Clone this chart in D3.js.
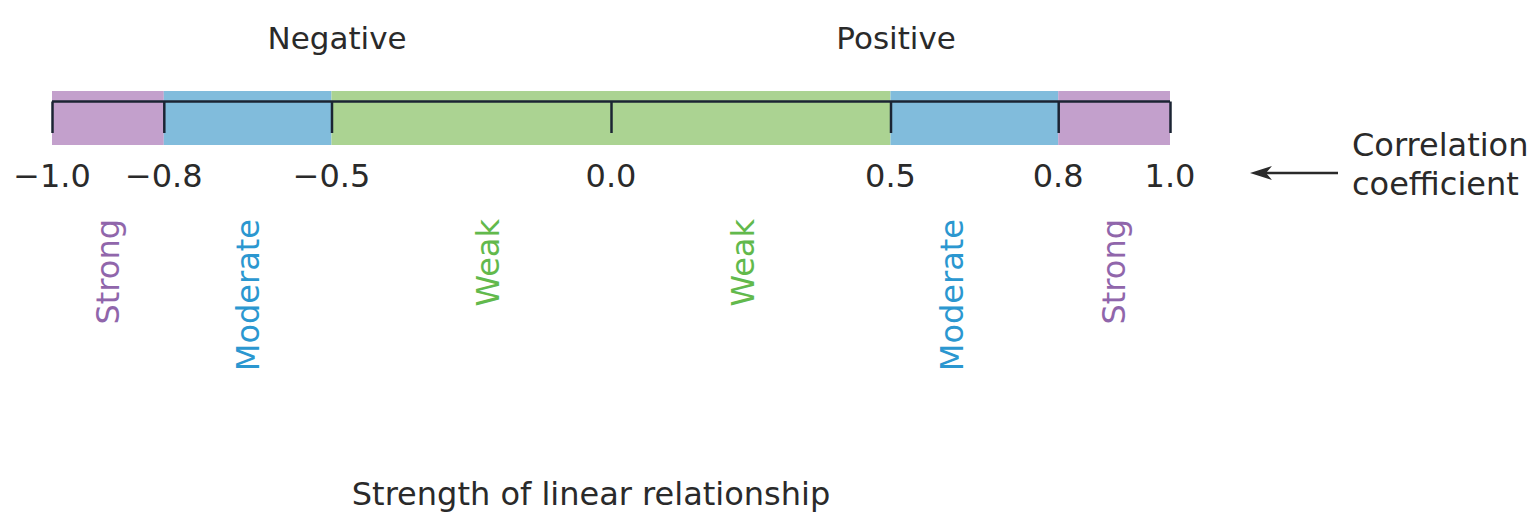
<!DOCTYPE html>
<html>
<head>
<meta charset="utf-8">
<script src="https://cdn.jsdelivr.net/npm/d3@7"></script>
<style>
  html, body { margin: 0; padding: 0; background: #fff; }
  svg { display: block; }
  text { font-family: "DejaVu Sans", sans-serif; }
</style>
</head>
<body>
<svg id="chart" width="1537" height="515"></svg>
<script>
// ---- data ----
const segStart = [-1.0, -0.8, -0.5, 0.5, 0.8];
const segEnd   = [-0.8, -0.5,  0.5, 0.8, 1.0];
const segClass = ["strong", "moderate", "weak", "moderate", "strong"];
const tickValues = [-1.0, -0.8, -0.5, 0.0, 0.5, 0.8, 1.0];
const tickLabels = ["\u22121.0", "\u22120.8", "\u22120.5", "0.0", "0.5", "0.8", "1.0"];
const strengthLabels = ["Strong", "Moderate", "Weak", "Weak", "Moderate", "Strong"];
const strengthPos    = [-0.9, -0.65, -0.22, 0.235, 0.61, 0.9];
const strengthClass  = ["strong", "moderate", "weak", "weak", "moderate", "strong"];
const directionLabels = ["Negative", "Positive"];
const directionPos    = [-0.49, 0.51];

// ---- styles ----
const fillColor = { strong: "#c3a0cc", moderate: "#81bcdc", weak: "#abd392" };
const textColor = { strong: "#9066ab", moderate: "#2b97d0", weak: "#62b94c" };

const svg = d3.select("#chart");
const x = d3.scaleLinear().domain([-1, 1]).range([52, 1170]);

const barTop = 91, barBottom = 145, lineY = 101.5, tickBottom = 133;

// colored segments
svg.append("g").selectAll("rect")
  .data(segStart.map((s, i) => ({ s, e: segEnd[i], c: segClass[i] })))
  .join("rect")
  .attr("x", d => x(d.s))
  .attr("y", barTop)
  .attr("width", d => x(d.e) - x(d.s))
  .attr("height", barBottom - barTop)
  .attr("fill", d => fillColor[d.c]);

// axis line + ticks
const axis = d3.axisBottom(x)
  .tickValues(tickValues)
  .tickSize(tickBottom - lineY)
  .tickFormat("");
const gAxis = svg.append("g").attr("transform", `translate(0,${lineY})`).call(axis);
gAxis.select(".domain").attr("d", `M${x(-1)},0H${x(1)}`).attr("stroke", "#1b2433").attr("stroke-width", 2.5);
gAxis.selectAll(".tick line").attr("stroke", "#1b2433").attr("stroke-width", 2.5);

// tick labels
svg.append("g").selectAll("text")
  .data(tickValues.map((v, i) => ({ v, t: tickLabels[i] })))
  .join("text")
  .attr("x", d => x(d.v))
  .attr("y", 187)
  .attr("text-anchor", "middle")
  .attr("font-size", 32)
  .attr("fill", "#2a2a2a")
  .text(d => d.t);

// direction labels
svg.append("g").selectAll("text")
  .data(directionLabels.map((t, i) => ({ t, v: directionPos[i] })))
  .join("text")
  .attr("x", d => x(d.v))
  .attr("y", 49)
  .attr("text-anchor", "middle")
  .attr("font-size", 31)
  .attr("fill", "#2a2a2a")
  .text(d => d.t);

// vertical strength labels
svg.append("g").selectAll("text")
  .data(strengthLabels.map((t, i) => ({ t, v: strengthPos[i], c: strengthClass[i] })))
  .join("text")
  .attr("transform", d => `translate(${x(d.v)},219) rotate(-90)`)
  .attr("text-anchor", "end")
  .attr("dy", "0.35em")
  .attr("font-size", 32)
  .attr("fill", d => textColor[d.c])
  .text(d => d.t);

// arrow + Correlation coefficient
const arrowY = 173;
svg.append("line")
  .attr("x1", 1338).attr("x2", 1262)
  .attr("y1", arrowY).attr("y2", arrowY)
  .attr("stroke", "#2a2a2a").attr("stroke-width", 2.5);
svg.append("path")
  .attr("d", `M1250,${arrowY} L1272,${arrowY - 7} L1266,${arrowY} L1272,${arrowY + 7} Z`)
  .attr("fill", "#2a2a2a");
const cc = svg.append("text")
  .attr("x", 1352)
  .attr("font-size", 32)
  .attr("fill", "#2a2a2a");
cc.append("tspan").attr("x", 1352).attr("y", 156).text("Correlation");
cc.append("tspan").attr("x", 1352).attr("y", 195).text("coefficient");

// bottom title
svg.append("text")
  .attr("x", 591)
  .attr("y", 505)
  .attr("text-anchor", "middle")
  .attr("font-size", 32)
  .attr("fill", "#2a2a2a")
  .text("Strength of linear relationship");
</script>
</body>
</html>
